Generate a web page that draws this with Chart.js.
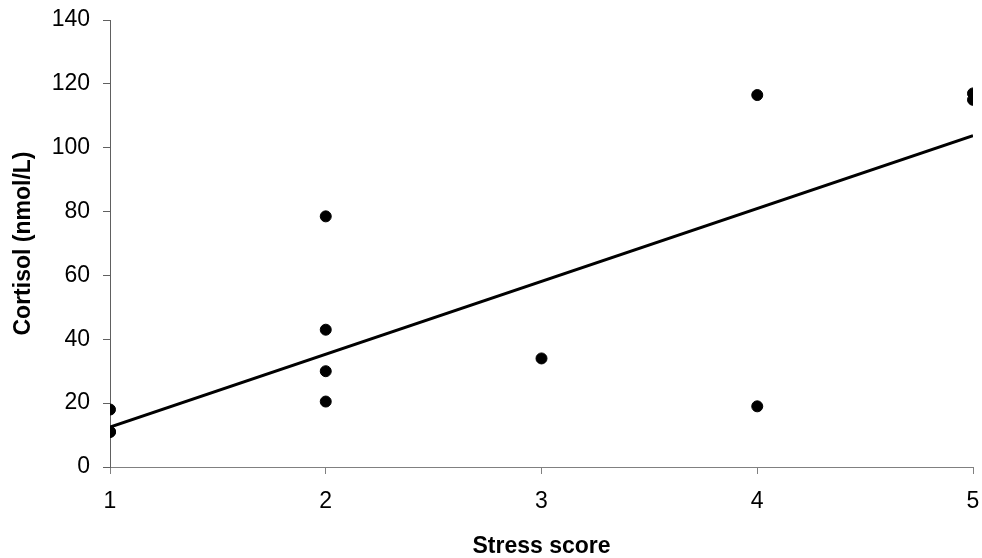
<!DOCTYPE html>
<html>
<head>
<meta charset="utf-8">
<script src="https://cdn.jsdelivr.net/npm/chart.js@4/dist/chart.umd.min.js"></script>
<style>
  html, body { margin: 0; padding: 0; background: #fff; }
  #wrap { width: 982px; height: 558px; position: relative; }
</style>
</head>
<body>
<div id="wrap"><canvas id="stress-chart"></canvas></div>
<script>
// stress score vs cortisol, one point per subject
const stressScores = [1, 1, 1, 2, 2, 2, 2, 3, 4, 4, 5, 5];
const cortisolValues = [18, 11, 11, 78.5, 43, 30, 20.5, 34, 116.5, 19, 117, 115];

// fitted trend line end points
const trendX = [1, 5];
const trendY = [12.5, 103.8];

const xTicks = [1, 2, 3, 4, 5];
const yTicks = [0, 20, 40, 60, 80, 100, 120, 140];

const fontFamily = "'Liberation Sans', Arial, sans-serif";

document.addEventListener('DOMContentLoaded', function () {
    let points = stressScores.map((x, i) => ({x: x, y: cortisolValues[i]}));
    let trend = trendX.map((x, i) => ({x: x, y: trendY[i]}));

    let options = {
        responsive: true,
        maintainAspectRatio: false,
        animation: false,
        layout: {
            padding: {top: 20, right: 9, bottom: 0, left: 10}
        },
        plugins: {
            legend: {display: false},
            tooltip: {enabled: false}
        },
        scales: {
            x: {
                type: 'linear',
                min: 1,
                max: 5,
                afterBuildTicks: axis => { axis.ticks = xTicks.map(v => ({value: v})); },
                // fixed axis band, no extra room for the end labels
                afterFit: axis => {
                    axis.height = 91;
                    axis.paddingLeft = 0;
                    axis.paddingRight = 0;
                },
                ticks: {
                    color: '#000',
                    font: {family: fontFamily, size: 23},
                    padding: 14
                },
                grid: {
                    drawOnChartArea: false,
                    drawTicks: true,
                    tickLength: 7,
                    color: '#808080'
                },
                border: {color: '#808080', width: 1},
                title: {
                    display: true,
                    text: 'Stress score',
                    color: '#000',
                    font: {family: fontFamily, size: 23, weight: 'bold', lineHeight: 1},
                    padding: {top: 19, bottom: 0}
                }
            },
            y: {
                type: 'linear',
                min: 0,
                max: 140,
                afterBuildTicks: axis => { axis.ticks = yTicks.map(v => ({value: v})); },
                afterFit: axis => {
                    axis.width = 100;
                    axis.paddingTop = 0;
                    axis.paddingBottom = 0;
                },
                ticks: {
                    color: '#000',
                    font: {family: fontFamily, size: 23},
                    padding: 13
                },
                grid: {
                    drawOnChartArea: false,
                    drawTicks: true,
                    tickLength: 7,
                    color: '#606060'
                },
                border: {color: '#606060', width: 1},
                title: {
                    display: true,
                    text: 'Cortisol (nmol/L)',
                    color: '#000',
                    font: {family: fontFamily, size: 23, weight: 'bold', lineHeight: 1},
                    padding: {top: 2, bottom: 14}
                }
            }
        }
    };

    new Chart(document.getElementById('stress-chart'), {
        type: 'scatter',
        data: {
            datasets: [
                {
                    label: 'Cortisol',
                    data: points,
                    backgroundColor: '#000',
                    borderColor: '#000',
                    pointRadius: 5.5,
                    pointHoverRadius: 5.5,
                    order: 1
                },
                {
                    label: 'Trend',
                    data: trend,
                    showLine: true,
                    borderColor: '#000',
                    borderWidth: 3,
                    pointRadius: 0,
                    fill: false,
                    order: 2
                }
            ]
        },
        options: options
    });
});
</script>
</body>
</html>
